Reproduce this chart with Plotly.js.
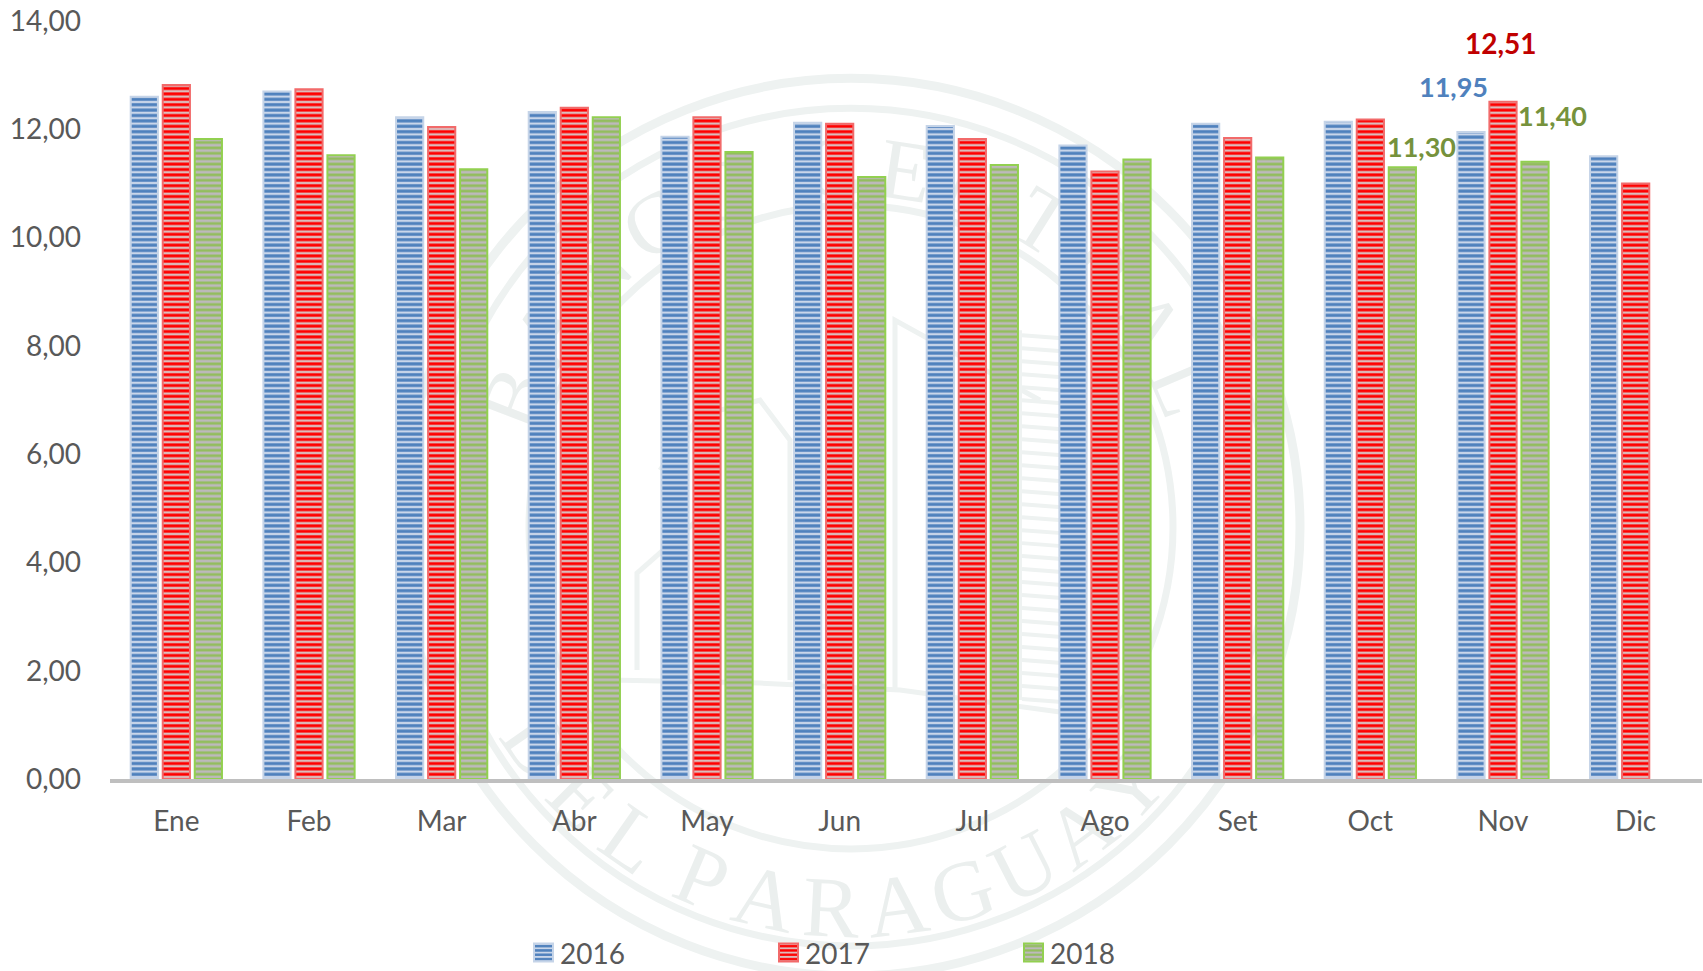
<!DOCTYPE html>
<html><head><meta charset="utf-8">
<script src="https://cdn.plot.ly/plotly-3.0.1.min.js"></script>
<style>html,body{margin:0;padding:0;background:#fff}#c{width:1703px;height:971px}</style></head>
<body><div id="c"></div>
<script>
const categories=["Ene","Feb","Mar","Abr","May","Jun","Jul","Ago","Set","Oct","Nov","Dic"];
const s2016=[12.60,12.70,12.22,12.32,11.86,12.12,12.06,11.70,12.10,12.14,11.95,11.50];
const s2017=[12.82,12.74,12.04,12.40,12.22,12.10,11.82,11.22,11.84,12.18,12.51,11.00];
const s2018=[11.82,11.52,11.26,12.22,11.58,11.12,11.34,11.44,11.48,11.30,11.40,null];
const yTicks=[0,2,4,6,8,10,12,14];
const yLabels=["0,00","2,00","4,00","6,00","8,00","10,00","12,00","14,00"];
const W=1703,H=971,L=110,R=1702,T=20.6,B=779;
const px=x=>(x-L)/(R-L), py=y=>(B-y)/(B-T);
const FONT='Lato, "Noto Sans", sans-serif';

function bar(name,y,fg,bg,line,sol){
  return {type:'bar',name,x:categories,y,
    marker:{color:bg,line:{color:line,width:2},
      pattern:{shape:'-',fgcolor:fg,bgcolor:bg,size:5.4,solidity:sol,fillmode:'replace'}},
    hoverinfo:'x+y'};
}
const traces=[
  bar('2016',s2016,'#4f81bd','#c9d6ea','#c5d4e8',0.58),
  bar('2017',s2017,'#ff0000','#dcbcbc','#f26a6a',0.55),
  bar('2018',s2018,'#93bd5e','#bdb9bc','#92d050',0.5)
];

const SEAL='#eef2f1', CX=851, CY=527;
const shapes=[];
function ring(r,w){shapes.push({type:'circle',layer:'below',xref:'paper',yref:'paper',
  x0:px(CX-r),x1:px(CX+r),y0:py(CY+r),y1:py(CY-r),line:{color:SEAL,width:w},fillcolor:'rgba(0,0,0,0)'});}
ring(449,9);ring(419,7);ring(322,7);
function poly(pts,w){shapes.push({type:'path',layer:'below',xref:'paper',yref:'paper',
  path:pts.map((p,i)=>(i?'L':'M')+px(p[0])+','+py(p[1])).join(' '),line:{color:SEAL,width:w||5}});}
poly([[637,670],[637,573],[720,500]]);
poly([[790,680],[790,440],[760,400],[700,415],[660,470]]);
poly([[895,690],[895,320],[1040,400]]);
poly([[610,680],[760,683],[900,690],[1060,712]]);
for(let y=335;y<710;y+=13){poly([[1022,y],[1062,y+3]],4);}
poly([[1020,330],[1020,700]],4);poly([[1064,340],[1064,705]],4);

function letter(ch,deg,bottom){
  const a=deg*Math.PI/180, r=bottom?372:370;
  const x=CX+r*Math.sin(a), y=bottom?CY+r*Math.cos(a):CY-r*Math.cos(a);
  const rot=bottom?-deg:deg;
  shapes.push({type:'rect',layer:'below',xref:'paper',yref:'paper',
    x0:px(x-10),x1:px(x+10),y0:py(y+10),y1:py(y-10),line:{width:0},fillcolor:'rgba(0,0,0,0)',
    label:{text:ch,textangle:rot,textposition:'middle center',font:{family:'"Liberation Serif",serif',size:86,color:'#ebefee'}}});
}
"BANCO".split('').forEach((c,i)=>letter(c,-69+12*i,false));
"CENTRAL".split('').forEach((c,i)=>letter(c,-3+11.7*i,false));
"PARAGUAY".split('').forEach((c,i)=>letter(c,-23+10*i,true));
"DEL".split('').forEach((c,i)=>letter(c,-55+10*i,true));

const ann=(cat,val,txt,col,dx,dy,sz)=>({x:cat,y:val,xref:'x',yref:'y',text:txt,showarrow:false,xanchor:'center',yanchor:'middle',
  xshift:dx,yshift:dy,font:{family:FONT,size:sz,color:col,weight:'bold'}});
const layout={
  width:W,height:H,margin:{l:L,r:W-R,t:T,b:H-B,pad:0,autoexpand:false},
  paper_bgcolor:'#fff',plot_bgcolor:'rgba(0,0,0,0)',
  font:{family:FONT,size:28,color:'#595959'},
  barmode:'group',bargap:0.276,bargroupgap:0.15,
  showlegend:true,
  legend:{orientation:'h',x:px(520),xanchor:'left',y:py(953),yanchor:'middle',entrywidth:200,entrywidthmode:'pixels',
    font:{family:FONT,size:28,color:'#595959'},bgcolor:'rgba(0,0,0,0)',traceorder:'normal',tracegroupgap:0},
  xaxis:{type:'category',range:[-0.5,11.5],showgrid:false,zeroline:false,showline:true,linecolor:'#bfbfbf',linewidth:4,
    ticks:'',ticklabelstandoff:14,tickfont:{family:FONT,size:28,color:'#595959'}},
  yaxis:{range:[0,14],tickmode:'array',tickvals:yTicks,ticktext:yLabels,showgrid:false,zeroline:false,showline:false,
    ticks:'',ticklabelstandoff:28,tickfont:{family:FONT,size:28,color:'#595959'}},
  shapes,
  annotations:[
    ann('Nov',s2017[10],'12,51','#c00000',-2,59,28),
    ann('Nov',s2016[10],'11,95','#4f81bd',-50,45,27),
    ann('Nov',s2018[10],'11,40','#76923c',49,46,27),
    ann('Oct',s2018[9],'11,30','#76923c',51,21,27)
  ]
};
Plotly.newPlot('c',traces,layout,{displayModeBar:false,responsive:false}).then(()=>{
  document.querySelectorAll('.legend .legendbar path, .legend .legendpoints path').forEach(p=>p.setAttribute('d','M13,9H-6V-9H13Z'));
});
</script></body></html>
